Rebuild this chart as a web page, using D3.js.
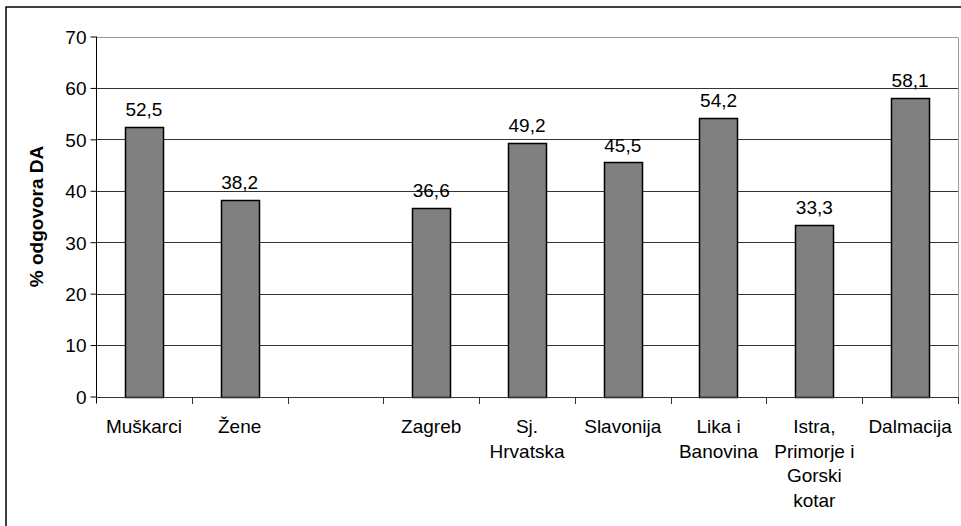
<!DOCTYPE html>
<html>
<head>
<meta charset="utf-8">
<script src="https://cdn.jsdelivr.net/npm/d3@7"></script>
<style>
  body { margin: 0; background: #fff; }
  svg { display: block; font-family: "Liberation Sans", Arial, sans-serif; }
</style>
</head>
<body>
<svg id="chart" width="961" height="526"></svg>
<script>
// categories (empty slot between gender and regions), "\n" = line break
const categories = ["Muškarci", "Žene", "", "Zagreb", "Sj.\nHrvatska", "Slavonija", "Lika i\nBanovina", "Istra,\nPrimorje i\nGorski\nkotar", "Dalmacija"];
const values = [52.5, 38.2, null, 36.6, 49.2, 45.5, 54.2, 33.3, 58.1];
const yTicks = [0, 10, 20, 30, 40, 50, 60, 70];
const yTitle = "% odgovora DA";

const LEFT = 96, RIGHT = 958, TOP = 36.5, BOTTOM = 396.5;
const FONT = 19;
const LINE_H = 24.7;

const svg = d3.select('svg#chart')

// outer chart border (only left/top edges visible in frame)
svg.append('rect')
  .attr('x', 6)
  .attr('y', 7)
  .attr('width', 1000)
  .attr('height', 600)
  .attr('fill', 'none')
  .attr('stroke', '#000')
  .attr('stroke-width', 1.5)

const x = d3.scaleBand()
  .domain(d3.range(categories.length))
  .range([LEFT, RIGHT])
  .paddingInner(0.6)
  .paddingOuter(0.3)

const y = d3.scaleLinear()
  .domain([0, 70])
  .range([BOTTOM, TOP])

const step = x.step()

// gridlines
svg.append('g')
  .selectAll('line')
  .data(yTicks.filter(d => d > 0))
  .enter()
  .append('line')
  .attr('x1', LEFT)
  .attr('x2', RIGHT)
  .attr('y1', d => Math.round(y(d)) + 0.5)
  .attr('y2', d => Math.round(y(d)) + 0.5)
  .attr('stroke', d => d === 70 ? '#999' : '#333')
  .attr('stroke-width', 1)

// plot area right border
svg.append('line')
  .attr('x1', RIGHT + 0.5).attr('x2', RIGHT + 0.5)
  .attr('y1', Math.round(y(70)) + 0.5).attr('y2', Math.round(y(0)))
  .attr('stroke', '#999')

// bars
svg.append('g')
  .selectAll('rect')
  .data(values.map((v, i) => ({ v, i })).filter(d => d.v !== null))
  .enter()
  .append('rect')
  .attr('x', d => Math.round(x(d.i)) + 0.5)
  .attr('y', d => Math.round(y(d.v)) + 0.5)
  .attr('width', Math.round(x.bandwidth()))
  .attr('height', d => Math.round(y(0)) - Math.round(y(d.v)))
  .attr('fill', '#808080')
  .attr('stroke', '#000')
  .attr('stroke-width', 1.5)

// value labels
svg.append('g')
  .selectAll('text')
  .data(values.map((v, i) => ({ v, i })).filter(d => d.v !== null))
  .enter()
  .append('text')
  .attr('x', d => x(d.i) + x.bandwidth() / 2)
  .attr('y', d => y(d.v) - 11)
  .attr('text-anchor', 'middle')
  .attr('font-size', FONT)
  .attr('fill', '#000')
  .text(d => d.v.toFixed(1).replace('.', ','))

// y axis
const yAxis = svg.append('g')
  .attr('transform', `translate(${LEFT + 0.5},0)`)
  .call(d3.axisLeft(y).tickValues(yTicks).tickSize(6).tickSizeOuter(0).tickPadding(4))
yAxis.select('.domain').attr('stroke', '#000').attr('d', `M0,${y(70)}V${y(0) + 7}`)
yAxis.selectAll('.tick line').attr('stroke', '#000')
yAxis.selectAll('.tick text')
  .attr('font-size', FONT)
  .attr('font-family', '"Liberation Sans", Arial, sans-serif')
  .attr('fill', '#000')
  .attr('dy', '0.36em')

// x axis baseline + ticks at slot boundaries
svg.append('line')
  .attr('x1', LEFT).attr('x2', RIGHT + 1)
  .attr('y1', Math.round(y(0)) + 0.5).attr('y2', Math.round(y(0)) + 0.5)
  .attr('stroke', '#333')

svg.append('g')
  .selectAll('line')
  .data(d3.range(1, categories.length + 1))
  .enter()
  .append('line')
  .attr('x1', i => Math.round(x(i - 1) - x.paddingInner() * step / 2 + step) + 0.5)
  .attr('x2', i => Math.round(x(i - 1) - x.paddingInner() * step / 2 + step) + 0.5)
  .attr('y1', Math.round(y(0)))
  .attr('y2', Math.round(y(0)) + 7)
  .attr('stroke', '#333')

// category labels
const labels = svg.append('g')
  .selectAll('text')
  .data(categories.map((c, i) => ({ c, i })))
  .enter()
  .append('text')
  .attr('x', d => x(d.i) + x.bandwidth() / 2)
  .attr('y', Math.round(y(0)) + 36)
  .attr('text-anchor', 'middle')
  .attr('font-size', FONT)
  .attr('fill', '#000')

labels.selectAll('tspan')
  .data(d => d.c.split('\n').map(line => ({ line, cx: x(d.i) + x.bandwidth() / 2 })))
  .enter()
  .append('tspan')
  .attr('x', d => d.cx)
  .attr('dy', (d, i) => i === 0 ? 0 : LINE_H)
  .text(d => d.line)

// y title
svg.append('text')
  .attr('transform', `translate(43,${(TOP + BOTTOM) / 2}) rotate(-90)`)
  .attr('text-anchor', 'middle')
  .attr('font-size', FONT)
  .attr('font-weight', 'bold')
  .attr('fill', '#000')
  .text(yTitle)
</script>
</body>
</html>
